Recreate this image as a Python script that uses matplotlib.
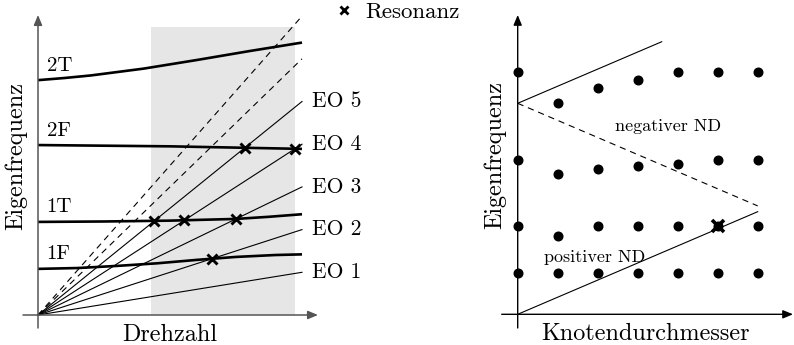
import numpy as np
import matplotlib
matplotlib.use('Agg')
import matplotlib.pyplot as plt
from matplotlib.lines import Line2D

plt.rcParams['font.family'] = ['cmr10', 'DejaVu Serif']
plt.rcParams['lines.scale_dashes'] = False
plt.rcParams['axes.unicode_minus'] = False

# ---------------- data: Campbell diagram (left) ----------------
eo_solid = [1, 2, 3, 4, 5]
eo_dashed = [6, 7]
eo_labels = ['EO 1', 'EO 2', 'EO 3', 'EO 4', 'EO 5']
drehzahl_end = 1.0
betrieb_start = 0.428      # shaded operating range
betrieb_end = 0.975
betrieb_top = 6.74

mode_labels = ['1F', '1T', '2F', '2T']
x_1F = [0.0, 0.15, 0.3, 0.45, 0.6, 0.75, 0.9, 1.0]
y_1F = [1.08, 1.10, 1.15, 1.21, 1.29, 1.36, 1.405, 1.42]
x_1T = [0.0, 0.25, 0.5, 0.625, 0.75, 0.875, 1.0]
y_1T = [2.18, 2.19, 2.21, 2.23, 2.25, 2.30, 2.36]
x_2F = [0.0, 0.5, 1.0]
y_2F = [3.98, 3.95, 3.89]
x_2T = [0.0, 0.1, 0.2, 0.3, 0.4, 0.5, 0.6, 0.7, 0.8, 0.9, 1.0]
y_2T = [5.50, 5.55, 5.61, 5.69, 5.77, 5.87, 5.97, 6.075, 6.18, 6.28, 6.38]
mode_x = [x_1F, x_1T, x_2F, x_2T]
mode_y = [y_1F, y_1T, y_2F, y_2T]

resonances = [(2, '1F'), (3, '1T'), (4, '1T'), (5, '1T'), (4, '2F'), (5, '2F')]

# ---------------- data: node diameter diagram (right) ----------------
knotendurchmesser = [0, 1, 2, 3, 4, 5, 6]
familie_1 = [4.1, 4.1, 4.1, 4.1, 4.1, 4.1, 4.1]
familie_2 = [8.8, 7.8, 8.8, 8.8, 8.8, 8.8, 8.8]
familie_3 = [15.4, 14.0, 14.5, 14.8, 15.0, 15.4, 15.4]
familie_4 = [24.2, 21.1, 22.6, 23.4, 24.2, 24.2, 24.2]
familien = [familie_1, familie_2, familie_3, familie_4]
eo_steigung = 1.71
eo_abstand = 21.1
pos_line_end = 6
upper_line_end = 3.6
neg_line_end = 6
resonanz_nd = 5
resonanz_familie = 1

# ---------------- layout ----------------
W, H = 794, 345
fig = plt.figure(figsize=(W / 100, H / 100), dpi=100)


def make_axes(pl, pr, pt, pb, orig, xs, ys):
    ax = fig.add_axes([pl / W, 1 - pb / H, (pr - pl) / W, (pb - pt) / H])
    ox, oy = orig
    ax.set_xlim((pl - ox) / xs, (pr - ox) / xs)
    ax.set_ylim((oy - pb) / ys, (oy - pt) / ys)
    ax.axis('off')
    return ax


LO = (38, 315); LXS = 264; LYS = 42.7
RO = (517.7, 314.3); RXS = 40; RYS = 10
axL = make_axes(0, 335, 0, 345, LO, LXS, LYS)
axR = make_axes(470, 794, 0, 345, RO, RXS, RYS)


def lpx(px, py):
    return (px - LO[0]) / LXS, (LO[1] - py) / LYS


def rpx(px, py):
    return (px - RO[0]) / RXS, (RO[1] - py) / RYS


def arrow(ax, start, end, color, lw):
    ax.annotate('', xy=end, xytext=start,
                arrowprops=dict(arrowstyle='-|>,head_length=0.6,head_width=0.25',
                                color=color, lw=lw, shrinkA=0, shrinkB=0))


THIN = 0.8
THICK = 1.9
LBL = 17.4

# ---- left panel ----
axL.add_patch(plt.Rectangle((betrieb_start, 0), betrieb_end - betrieb_start, betrieb_top,
                            facecolor='#e6e6e6', edgecolor='none', zorder=0))
xs = np.array([0.0, drehzahl_end])
for k in eo_solid:
    axL.plot(xs, k * xs, color='black', lw=THIN, zorder=2)
for k in eo_dashed:
    axL.plot(xs, k * xs, color='black', lw=THIN, ls=(0, (4.5, 3.5)), zorder=2)
for k, lab in zip(eo_solid, eo_labels):
    axL.text(drehzahl_end + 9.5 / LXS, k * drehzahl_end, lab, fontsize=15.5,
             ha='left', va='center', clip_on=False)

for mx, my, lab in zip(mode_x, mode_y, mode_labels):
    axL.plot(mx, my, color='black', lw=THICK, zorder=3, solid_capstyle='butt',
             solid_joinstyle='round')
    axL.text(8.7 / LXS, my[0] + 9.5 / LYS, lab, fontsize=15, ha='left', va='baseline')

grid = np.linspace(0, drehzahl_end, 4001)
for k, mode in resonances:
    i = mode_labels.index(mode)
    d = np.interp(grid, mode_x[i], mode_y[i]) - k * grid
    j = np.where(np.diff(np.sign(d)) != 0)[0][0]
    xr = grid[j] - d[j] * (grid[j + 1] - grid[j]) / (d[j + 1] - d[j])
    axL.plot(xr, k * xr, marker='x', color='black', ms=7, mew=2.1, zorder=5)

axis_grey = '#555555'
arrow(axL, (lpx(23, 0)[0], 0), (lpx(318, 0)[0], 0), axis_grey, 1.1)
arrow(axL, (0, lpx(0, 328)[1]), (0, lpx(0, 15)[1]), axis_grey, 1.1)
axL.text(*lpx(170, 335), 'Drehzahl', fontsize=LBL, ha='center', va='center')
axL.text(*lpx(16, 156), 'Eigenfrequenz', fontsize=LBL, ha='center', va='center',
         rotation=90)

fig.legend(handles=[Line2D([], [], marker='x', ls='none', color='black', ms=5.5, mew=2.0)],
           labels=['Resonanz'], loc='center left', bbox_to_anchor=(334 / W, 1 - 12 / H),
           frameon=False, handlelength=0.9, handletextpad=0.45, borderpad=0,
           borderaxespad=0, fontsize=16.5)

# ---- right panel ----
nd = np.array(knotendurchmesser, dtype=float)
for fam in familien:
    axR.plot(nd, fam, ls='none', marker='o', ms=6.2, color='black', zorder=4, clip_on=False)
axR.plot([0, pos_line_end], [0, eo_steigung * pos_line_end], color='black', lw=THIN)
axR.plot([0, upper_line_end], [eo_abstand, eo_abstand + eo_steigung * upper_line_end],
         color='black', lw=THIN)
axR.plot([0, neg_line_end], [eo_abstand, eo_abstand - eo_steigung * neg_line_end],
         color='black', lw=THIN, ls=(0, (4.5, 3.5)))
axR.plot(resonanz_nd, familien[resonanz_familie][resonanz_nd], marker='x', color='black',
         ms=8, mew=2.6, zorder=6)

arrow(axR, (rpx(501.7, 0)[0], 0), (rpx(793, 0)[0], 0), 'black', 1.0)
arrow(axR, (0, rpx(0, 328)[1]), (0, rpx(0, 15)[1]), 'black', 1.0)
axR.text(*rpx(668, 126), 'negativer ND', fontsize=13, ha='center', va='center')
axR.text(*rpx(595, 257), 'positiver ND', fontsize=13, ha='center', va='center')
axR.text(*rpx(645, 334), 'Knotendurchmesser', fontsize=LBL, ha='center', va='center')
axR.text(*rpx(495, 155), 'Eigenfrequenz', fontsize=LBL, ha='center', va='center',
         rotation=90)

fig.savefig('out.png', dpi=100)
